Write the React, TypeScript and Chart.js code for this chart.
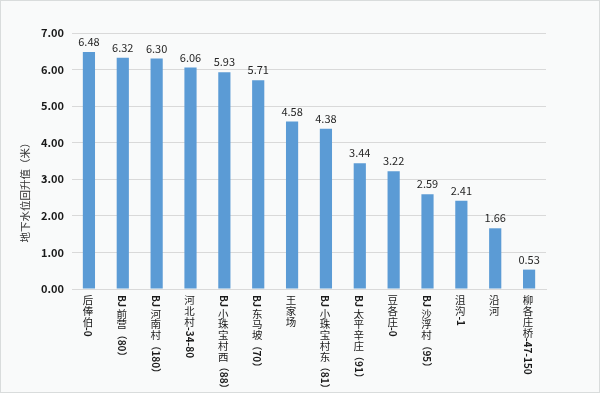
import React, { useEffect, useRef } from 'react';
import { Chart, registerables } from 'chart.js';
Chart.register(...registerables);

const categories = [
  '后俸伯-0',
  'BJ前营（80）',
  'BJ河南村（180）',
  '河北村-34-80',
  'BJ小珠宝村西（88）',
  'BJ东马坡（70）',
  '王家场',
  'BJ小珠宝村东（81）',
  'BJ太平辛庄（91）',
  '豆各庄-0',
  'BJ沙浮村（95）',
  '沮沟-1',
  '沿河',
  '柳各庄桥-47-150',
];
const values = [6.48, 6.32, 6.3, 6.06, 5.93, 5.71, 4.58, 4.38, 3.44, 3.22, 2.59, 2.41, 1.66, 0.53];
const yTitle = '地下水位回升值（米）';
const yMin = 0;
const yMax = 7;
const yStep = 1;

const CJK = /[\u3400-\u9fff]/;
const FONT = '"Noto Sans CJK SC", "Noto Sans", sans-serif';

const verticalLabels = {
  id: 'verticalLabels',
  afterDraw(chart: any) {
    const ctx = chart.ctx;
    const xs = chart.scales.x;
    const top = chart.chartArea.bottom + 6;
    ctx.save();
    ctx.fillStyle = '#1a1a1a';
    categories.forEach((label, i) => {
      const x = xs.getPixelForTick(i) - 1;
      let y = top;
      const runs: { t: string; cjk: boolean }[] = [];
      for (const ch of Array.from(label)) {
        const c = CJK.test(ch);
        const last = runs[runs.length - 1];
        if (!c && last && !last.cjk) last.t += ch;
        else runs.push({ t: ch, cjk: c });
      }
      runs.forEach((r) => {
        if (r.cjk) {
          ctx.font = `10.5px ${FONT}`;
          ctx.textAlign = 'center';
          ctx.textBaseline = 'middle';
          ctx.fillText(r.t, x, y + 5.5);
          y += 10.7;
        } else {
          ctx.font = `bold 10px ${FONT}`;
          ctx.textAlign = 'left';
          ctx.textBaseline = 'middle';
          ctx.save();
          ctx.translate(x, y);
          ctx.rotate(Math.PI / 2);
          ctx.fillText(r.t, 0, 0);
          ctx.restore();
          y += ctx.measureText(r.t).width + 1;
        }
      });
    });
    ctx.font = `10.5px ${FONT}`;
    ctx.fillStyle = '#333';
    ctx.textAlign = 'center';
    ctx.textBaseline = 'middle';
    ctx.translate(25, 190);
    ctx.rotate(-Math.PI / 2);
    ctx.fillText(yTitle, 0, 0);
    ctx.restore();
  },
};

const dataLabels = {
  id: 'dataLabels',
  afterDatasetsDraw(chart: any) {
    const ctx = chart.ctx;
    const meta = chart.getDatasetMeta(0);
    ctx.save();
    ctx.font = `11px ${FONT}`;
    ctx.fillStyle = '#262626';
    ctx.textAlign = 'center';
    ctx.textBaseline = 'middle';
    meta.data.forEach((bar: any, i: number) => {
      ctx.fillText(values[i].toFixed(2), bar.x, bar.y - 10);
    });
    ctx.restore();
  },
};

export default function App() {
  const ref = useRef<HTMLCanvasElement>(null);
  useEffect(() => {
    const chart = new Chart(ref.current!, {
      type: 'bar',
      data: {
        labels: categories,
        datasets: [
          {
            data: values,
            backgroundColor: '#5b9bd5',
            barPercentage: 0.36,
            categoryPercentage: 1,
          },
        ],
      },
      options: {
        animation: false,
        responsive: false,
        layout: { padding: { left: 0, top: 33, right: 54, bottom: 0 } },
        plugins: { legend: { display: false }, tooltip: { enabled: false } },
        scales: {
          x: {
            grid: { display: false, drawTicks: false },
            border: { color: '#d9d9d9' },
            ticks: { display: false },
            afterFit: (s: any) => {
              s.height = 104;
            },
          },
          y: {
            min: yMin,
            max: yMax,
            ticks: {
              stepSize: yStep,
              padding: 8,
              color: '#1a1a1a',
              font: { size: 11, weight: 'bold', family: FONT },
              callback: (v: any) => Number(v).toFixed(2),
            },
            grid: { color: '#d9d9d9', drawTicks: false },
            border: { display: false },
            afterFit: (s: any) => {
              s.width = 72;
            },
          },
        },
      },
      plugins: [verticalLabels, dataLabels],
    } as any);
    return () => chart.destroy();
  }, []);
  return (
    <div
      style={{
        position: 'fixed',
        left: 0,
        top: 0,
        width: 600,
        height: 393,
        boxSizing: 'border-box',
        background: '#f9fafa',
        border: '1px solid #d9dcdc',
      }}
    >
      <canvas
        ref={ref}
        width={600}
        height={393}
        style={{ position: 'absolute', left: -1, top: -1, width: 600, height: 393 }}
      />
    </div>
  );
}
